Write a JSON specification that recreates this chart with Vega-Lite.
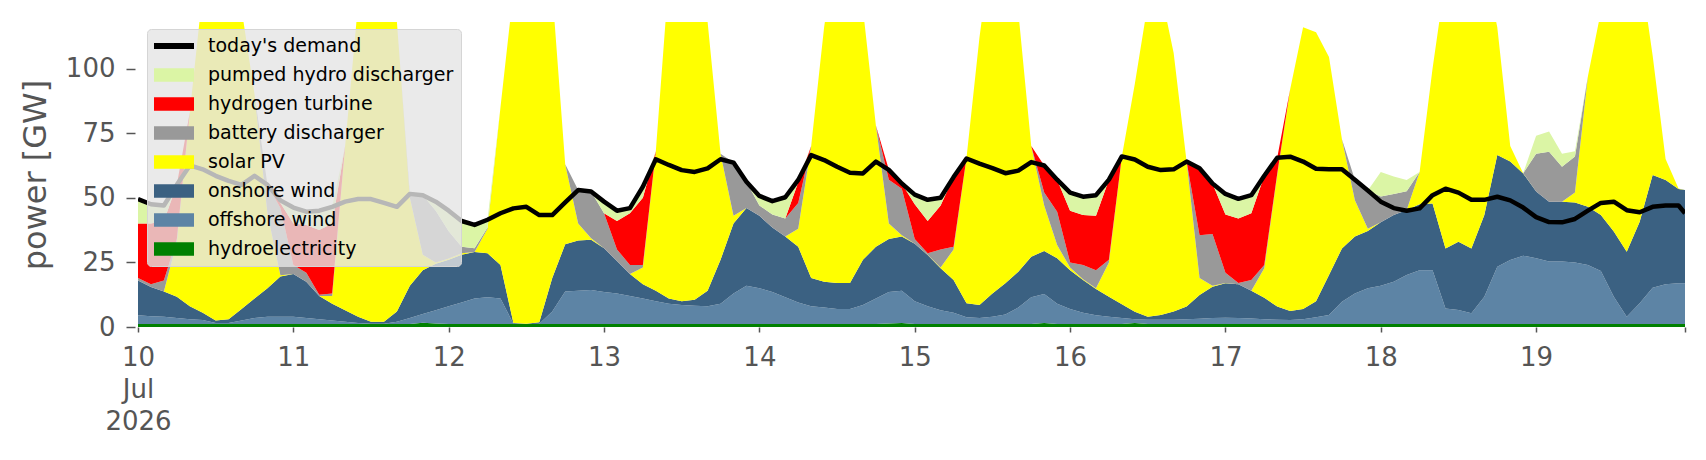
{
  "$schema": "https://vega.github.io/schema/vega-lite/v6.json",
  "width": 1547,
  "height": 305,
  "autosize": {"type": "none"},
  "padding": {"left": 138, "top": 22, "right": 21, "bottom": 133},
  "background": "white",
  "config": {
    "view": {"stroke": null},
    "font": "DejaVu Sans",
    "axis": {"labelFont": "DejaVu Sans", "titleFont": "DejaVu Sans"},
    "legend": {"labelFont": "DejaVu Sans"}
  },
  "data": {
    "values": [
      {"t": "2026-07-10T00:00Z", "hydro": 1.2, "offshore": 3.3, "onshore": 13.5, "solar": 0, "battery": 1, "hydrogen": 21, "pumped": 9, "demand": 49.5},
      {"t": "2026-07-10T02:00Z", "hydro": 1.2, "offshore": 3.0, "onshore": 11.3, "solar": 0, "battery": 1, "hydrogen": 23.5, "pumped": 7.5, "demand": 47.5},
      {"t": "2026-07-10T04:00Z", "hydro": 1.2, "offshore": 2.8, "onshore": 9.7, "solar": 0, "battery": 4.3, "hydrogen": 23, "pumped": 6, "demand": 47},
      {"t": "2026-07-10T06:00Z", "hydro": 1.2, "offshore": 2.3, "onshore": 8.2, "solar": 21.3, "battery": 1, "hydrogen": 21, "pumped": 0, "demand": 55},
      {"t": "2026-07-10T08:00Z", "hydro": 1.2, "offshore": 1.8, "onshore": 5, "solar": 75, "battery": 0, "hydrogen": 0, "pumped": 0, "demand": 62.5},
      {"t": "2026-07-10T10:00Z", "hydro": 1.2, "offshore": 1.5, "onshore": 2.8, "solar": 124.5, "battery": 0, "hydrogen": 0, "pumped": 0, "demand": 61},
      {"t": "2026-07-10T12:00Z", "hydro": 1.2, "offshore": 0.3, "onshore": 1, "solar": 147.5, "battery": 0, "hydrogen": 0, "pumped": 0, "demand": 58.5},
      {"t": "2026-07-10T14:00Z", "hydro": 1.2, "offshore": 0.3, "onshore": 1.5, "solar": 147, "battery": 0, "hydrogen": 0, "pumped": 0, "demand": 56.5},
      {"t": "2026-07-10T16:00Z", "hydro": 1.2, "offshore": 1.3, "onshore": 4.5, "solar": 116, "battery": 0, "hydrogen": 0, "pumped": 0, "demand": 55},
      {"t": "2026-07-10T18:00Z", "hydro": 1.2, "offshore": 2.3, "onshore": 7.5, "solar": 79, "battery": 0, "hydrogen": 0, "pumped": 0, "demand": 58.5},
      {"t": "2026-07-10T20:00Z", "hydro": 1.2, "offshore": 2.8, "onshore": 11, "solar": 29, "battery": 11, "hydrogen": 0, "pumped": 0, "demand": 55},
      {"t": "2026-07-10T22:00Z", "hydro": 1.2, "offshore": 2.8, "onshore": 15.5, "solar": 0.5, "battery": 26, "hydrogen": 2, "pumped": 1, "demand": 49},
      {"t": "2026-07-11T00:00Z", "hydro": 1.2, "offshore": 2.8, "onshore": 16.5, "solar": 0, "battery": 3.5, "hydrogen": 16, "pumped": 6.2, "demand": 46.2},
      {"t": "2026-07-11T02:00Z", "hydro": 1.2, "offshore": 2.3, "onshore": 14, "solar": 0, "battery": 3.5, "hydrogen": 18.5, "pumped": 5.1, "demand": 44.6},
      {"t": "2026-07-11T04:00Z", "hydro": 1.2, "offshore": 1.8, "onshore": 9, "solar": 0, "battery": 0.5, "hydrogen": 25, "pumped": 7.5, "demand": 45},
      {"t": "2026-07-11T06:00Z", "hydro": 1.2, "offshore": 1.3, "onshore": 6.5, "solar": 3, "battery": 1, "hydrogen": 27, "pumped": 6.5, "demand": 46.5},
      {"t": "2026-07-11T08:00Z", "hydro": 1.2, "offshore": 0.8, "onshore": 4.5, "solar": 63.5, "battery": 0, "hydrogen": 0, "pumped": 0, "demand": 48.5},
      {"t": "2026-07-11T10:00Z", "hydro": 1.2, "offshore": 0.3, "onshore": 2.5, "solar": 121, "battery": 0, "hydrogen": 0, "pumped": 0, "demand": 49.5},
      {"t": "2026-07-11T12:00Z", "hydro": 1.2, "offshore": 0.1, "onshore": 0.7, "solar": 148, "battery": 0, "hydrogen": 0, "pumped": 0, "demand": 49.5},
      {"t": "2026-07-11T14:00Z", "hydro": 1.2, "offshore": 0.1, "onshore": 0.7, "solar": 148, "battery": 0, "hydrogen": 0, "pumped": 0, "demand": 48},
      {"t": "2026-07-11T16:00Z", "hydro": 1.2, "offshore": 0.8, "onshore": 4, "solar": 112, "battery": 0, "hydrogen": 0, "pumped": 0, "demand": 46.5},
      {"t": "2026-07-11T18:00Z", "hydro": 1.2, "offshore": 2.3, "onshore": 12.5, "solar": 34, "battery": 1.5, "hydrogen": 0, "pumped": 0, "demand": 51.5},
      {"t": "2026-07-11T20:00Z", "hydro": 1.6, "offshore": 3.4, "onshore": 17, "solar": 6, "battery": 23, "hydrogen": 0, "pumped": 0, "demand": 51},
      {"t": "2026-07-11T22:00Z", "hydro": 1.4, "offshore": 5.1, "onshore": 18, "solar": 0.5, "battery": 20, "hydrogen": 0, "pumped": 3.5, "demand": 48.5},
      {"t": "2026-07-12T00:00Z", "hydro": 1.2, "offshore": 6.8, "onshore": 18, "solar": 0.5, "battery": 10.5, "hydrogen": 0, "pumped": 8, "demand": 45},
      {"t": "2026-07-12T02:00Z", "hydro": 1.2, "offshore": 8.3, "onshore": 18.5, "solar": 0.5, "battery": 2.5, "hydrogen": 0, "pumped": 10, "demand": 41},
      {"t": "2026-07-12T04:00Z", "hydro": 1.2, "offshore": 9.8, "onshore": 18, "solar": 0, "battery": 1.5, "hydrogen": 0, "pumped": 9, "demand": 39.5},
      {"t": "2026-07-12T06:00Z", "hydro": 1.2, "offshore": 10.3, "onshore": 17, "solar": 9.5, "battery": 0.5, "hydrogen": 0, "pumped": 3, "demand": 41.5},
      {"t": "2026-07-12T08:00Z", "hydro": 1.2, "offshore": 9.8, "onshore": 13, "solar": 61, "battery": 0, "hydrogen": 0, "pumped": 0, "demand": 44},
      {"t": "2026-07-12T10:00Z", "hydro": 1.2, "offshore": 0.1, "onshore": 0.2, "solar": 128.5, "battery": 0, "hydrogen": 0, "pumped": 0, "demand": 45.9},
      {"t": "2026-07-12T12:00Z", "hydro": 1.2, "offshore": 0, "onshore": 0.1, "solar": 148.7, "battery": 0, "hydrogen": 0, "pumped": 0, "demand": 46.5},
      {"t": "2026-07-12T14:00Z", "hydro": 1.2, "offshore": 0.1, "onshore": 0.5, "solar": 148.2, "battery": 0, "hydrogen": 0, "pumped": 0, "demand": 43.3},
      {"t": "2026-07-12T16:00Z", "hydro": 1.2, "offshore": 4.8, "onshore": 13, "solar": 111, "battery": 0, "hydrogen": 0, "pumped": 0, "demand": 43.3},
      {"t": "2026-07-12T18:00Z", "hydro": 1.2, "offshore": 12.5, "onshore": 18.3, "solar": 31, "battery": 0, "hydrogen": 0, "pumped": 0, "demand": 48.2},
      {"t": "2026-07-12T20:00Z", "hydro": 1.2, "offshore": 12.8, "onshore": 19.5, "solar": 6.5, "battery": 13, "hydrogen": 0, "pumped": 0, "demand": 53},
      {"t": "2026-07-12T22:00Z", "hydro": 1.2, "offshore": 13.1, "onshore": 19.5, "solar": 0.5, "battery": 18.1, "hydrogen": 0, "pumped": 0, "demand": 52.4},
      {"t": "2026-07-13T00:00Z", "hydro": 1.2, "offshore": 12.3, "onshore": 17, "solar": 0, "battery": 13.5, "hydrogen": 0, "pumped": 4.5, "demand": 48.5},
      {"t": "2026-07-13T02:00Z", "hydro": 1.2, "offshore": 11.8, "onshore": 12.5, "solar": 0, "battery": 4.5, "hydrogen": 11, "pumped": 4, "demand": 45},
      {"t": "2026-07-13T04:00Z", "hydro": 1.2, "offshore": 10.8, "onshore": 8.5, "solar": 0, "battery": 3.5, "hydrogen": 20, "pumped": 2, "demand": 46},
      {"t": "2026-07-13T06:00Z", "hydro": 1.2, "offshore": 9.8, "onshore": 5.5, "solar": 6.5, "battery": 1, "hydrogen": 26, "pumped": 4.3, "demand": 54.3},
      {"t": "2026-07-13T08:00Z", "hydro": 1.2, "offshore": 8.8, "onshore": 4, "solar": 54, "battery": 0, "hydrogen": 0, "pumped": 0, "demand": 64.9},
      {"t": "2026-07-13T10:00Z", "hydro": 1.2, "offshore": 7.8, "onshore": 2, "solar": 124, "battery": 0, "hydrogen": 0, "pumped": 0, "demand": 62.7},
      {"t": "2026-07-13T12:00Z", "hydro": 1.2, "offshore": 7.3, "onshore": 1.5, "solar": 150, "battery": 0, "hydrogen": 0, "pumped": 0, "demand": 60.7},
      {"t": "2026-07-13T14:00Z", "hydro": 1.2, "offshore": 7, "onshore": 2.3, "solar": 149.5, "battery": 0, "hydrogen": 0, "pumped": 0, "demand": 60},
      {"t": "2026-07-13T16:00Z", "hydro": 1.2, "offshore": 6.8, "onshore": 6, "solar": 104, "battery": 0, "hydrogen": 0, "pumped": 0, "demand": 61.4},
      {"t": "2026-07-13T18:00Z", "hydro": 1.2, "offshore": 7.8, "onshore": 17, "solar": 41, "battery": 0, "hydrogen": 0, "pumped": 0, "demand": 64.9},
      {"t": "2026-07-13T20:00Z", "hydro": 1.2, "offshore": 11.8, "onshore": 27, "solar": 3, "battery": 20.6, "hydrogen": 0, "pumped": 0, "demand": 63.6},
      {"t": "2026-07-13T22:00Z", "hydro": 1.2, "offshore": 14.8, "onshore": 30, "solar": 0, "battery": 10.2, "hydrogen": 0, "pumped": 0, "demand": 56.2},
      {"t": "2026-07-14T00:00Z", "hydro": 1.2, "offshore": 13.8, "onshore": 28, "solar": 0, "battery": 4, "hydrogen": 0, "pumped": 3.7, "demand": 50.7},
      {"t": "2026-07-14T02:00Z", "hydro": 1.2, "offshore": 12.3, "onshore": 25, "solar": 0, "battery": 5, "hydrogen": 0, "pumped": 5.2, "demand": 48.7},
      {"t": "2026-07-14T04:00Z", "hydro": 1.2, "offshore": 10.3, "onshore": 23.5, "solar": 0, "battery": 7, "hydrogen": 0, "pumped": 8.2, "demand": 50.2},
      {"t": "2026-07-14T06:00Z", "hydro": 1.2, "offshore": 8.3, "onshore": 21.5, "solar": 7, "battery": 10, "hydrogen": 8, "pumped": 0.9, "demand": 56.9},
      {"t": "2026-07-14T08:00Z", "hydro": 1.2, "offshore": 6.8, "onshore": 11, "solar": 51, "battery": 0, "hydrogen": 0, "pumped": 0, "demand": 66.5},
      {"t": "2026-07-14T10:00Z", "hydro": 1.2, "offshore": 6.3, "onshore": 10, "solar": 98.5, "battery": 0, "hydrogen": 0, "pumped": 0, "demand": 64.6},
      {"t": "2026-07-14T12:00Z", "hydro": 1.2, "offshore": 5.8, "onshore": 10, "solar": 133, "battery": 0, "hydrogen": 0, "pumped": 0, "demand": 62},
      {"t": "2026-07-14T14:00Z", "hydro": 1.2, "offshore": 5.8, "onshore": 10, "solar": 133, "battery": 0, "hydrogen": 0, "pumped": 0, "demand": 59.7},
      {"t": "2026-07-14T16:00Z", "hydro": 1.2, "offshore": 7.3, "onshore": 17.5, "solar": 97, "battery": 0, "hydrogen": 0, "pumped": 0, "demand": 59.4},
      {"t": "2026-07-14T18:00Z", "hydro": 1.2, "offshore": 9.8, "onshore": 20, "solar": 47, "battery": 0, "hydrogen": 0, "pumped": 0, "demand": 64},
      {"t": "2026-07-14T20:00Z", "hydro": 1.4, "offshore": 12.1, "onshore": 20.5, "solar": 6, "battery": 17, "hydrogen": 3.8, "pumped": 0, "demand": 60.8},
      {"t": "2026-07-14T22:00Z", "hydro": 1.5, "offshore": 12.5, "onshore": 21, "solar": 0.5, "battery": 18, "hydrogen": 2, "pumped": 0, "demand": 55.5},
      {"t": "2026-07-15T00:00Z", "hydro": 1.2, "offshore": 8.8, "onshore": 22.2, "solar": 0, "battery": 1.8, "hydrogen": 13.5, "pumped": 3.7, "demand": 51.2},
      {"t": "2026-07-15T02:00Z", "hydro": 1.2, "offshore": 6.8, "onshore": 19.9, "solar": 0.1, "battery": 0.5, "hydrogen": 12.5, "pumped": 8.2, "demand": 49.2},
      {"t": "2026-07-15T04:00Z", "hydro": 1.2, "offshore": 5.3, "onshore": 16.2, "solar": 0.3, "battery": 7, "hydrogen": 17, "pumped": 3, "demand": 50},
      {"t": "2026-07-15T06:00Z", "hydro": 1.2, "offshore": 4.3, "onshore": 12.7, "solar": 11.8, "battery": 1, "hydrogen": 27, "pumped": 0, "demand": 58},
      {"t": "2026-07-15T08:00Z", "hydro": 1.2, "offshore": 2.6, "onshore": 5.4, "solar": 56.3, "battery": 0, "hydrogen": 0, "pumped": 0, "demand": 65.2},
      {"t": "2026-07-15T10:00Z", "hydro": 1.2, "offshore": 2.3, "onshore": 5, "solar": 103.5, "battery": 0, "hydrogen": 0, "pumped": 0, "demand": 63.2},
      {"t": "2026-07-15T12:00Z", "hydro": 1.2, "offshore": 2.8, "onshore": 9, "solar": 137, "battery": 0, "hydrogen": 0, "pumped": 0, "demand": 61.5},
      {"t": "2026-07-15T14:00Z", "hydro": 1.2, "offshore": 3.6, "onshore": 12.1, "solar": 143.1, "battery": 0, "hydrogen": 0, "pumped": 0, "demand": 59.5},
      {"t": "2026-07-15T16:00Z", "hydro": 1.2, "offshore": 6.3, "onshore": 13.9, "solar": 100.6, "battery": 0, "hydrogen": 0, "pumped": 0, "demand": 60.5},
      {"t": "2026-07-15T18:00Z", "hydro": 1.2, "offshore": 10.3, "onshore": 15.7, "solar": 42.8, "battery": 0, "hydrogen": 0, "pumped": 0, "demand": 63.8},
      {"t": "2026-07-15T20:00Z", "hydro": 1.5, "offshore": 11.3, "onshore": 16.6, "solar": 17.6, "battery": 5, "hydrogen": 10.5, "pumped": 0, "demand": 62.5},
      {"t": "2026-07-15T22:00Z", "hydro": 1.2, "offshore": 7.8, "onshore": 17.6, "solar": 5.1, "battery": 12.9, "hydrogen": 12.4, "pumped": 0, "demand": 57},
      {"t": "2026-07-16T00:00Z", "hydro": 1.2, "offshore": 5.8, "onshore": 15, "solar": 1, "battery": 2, "hydrogen": 20, "pumped": 7, "demand": 52},
      {"t": "2026-07-16T02:00Z", "hydro": 1.2, "offshore": 4.3, "onshore": 12.7, "solar": 0.3, "battery": 5.5, "hydrogen": 19.3, "pumped": 7.1, "demand": 50.4},
      {"t": "2026-07-16T04:00Z", "hydro": 1.2, "offshore": 3.3, "onshore": 10.2, "solar": 0.3, "battery": 7, "hydrogen": 21, "pumped": 8, "demand": 51},
      {"t": "2026-07-16T06:00Z", "hydro": 1.2, "offshore": 2.8, "onshore": 7.7, "solar": 13.3, "battery": 1, "hydrogen": 31, "pumped": 0, "demand": 57},
      {"t": "2026-07-16T08:00Z", "hydro": 1.2, "offshore": 2.3, "onshore": 5.3, "solar": 57.2, "battery": 0, "hydrogen": 0, "pumped": 0, "demand": 66},
      {"t": "2026-07-16T10:00Z", "hydro": 1.5, "offshore": 1.5, "onshore": 2.9, "solar": 88.1, "battery": 0, "hydrogen": 0, "pumped": 0, "demand": 64.8},
      {"t": "2026-07-16T12:00Z", "hydro": 1.2, "offshore": 1.6, "onshore": 1.2, "solar": 121, "battery": 0, "hydrogen": 0, "pumped": 0, "demand": 62},
      {"t": "2026-07-16T14:00Z", "hydro": 1.2, "offshore": 1.6, "onshore": 1.8, "solar": 125.4, "battery": 0, "hydrogen": 0, "pumped": 0, "demand": 60.7},
      {"t": "2026-07-16T16:00Z", "hydro": 1.2, "offshore": 1.6, "onshore": 3.2, "solar": 100, "battery": 0, "hydrogen": 0, "pumped": 0, "demand": 61},
      {"t": "2026-07-16T18:00Z", "hydro": 1.2, "offshore": 1.8, "onshore": 4.9, "solar": 56.1, "battery": 0, "hydrogen": 0, "pumped": 0, "demand": 64},
      {"t": "2026-07-16T20:00Z", "hydro": 1.2, "offshore": 2, "onshore": 9.2, "solar": 6.6, "battery": 16.5, "hydrogen": 25.9, "pumped": 0, "demand": 61.4},
      {"t": "2026-07-16T22:00Z", "hydro": 1.2, "offshore": 2.3, "onshore": 12.1, "solar": 0.4, "battery": 20, "hydrogen": 19.5, "pumped": 0, "demand": 55.5},
      {"t": "2026-07-17T00:00Z", "hydro": 1.2, "offshore": 2.4, "onshore": 13.3, "solar": 0.1, "battery": 4, "hydrogen": 22.5, "pumped": 8, "demand": 51.5},
      {"t": "2026-07-17T02:00Z", "hydro": 1.2, "offshore": 2.3, "onshore": 13, "solar": 0, "battery": 0.5, "hydrogen": 25, "pumped": 7.6, "demand": 49.6},
      {"t": "2026-07-17T04:00Z", "hydro": 1.2, "offshore": 2.1, "onshore": 10.7, "solar": 0, "battery": 4.2, "hydrogen": 25.8, "pumped": 7, "demand": 51},
      {"t": "2026-07-17T06:00Z", "hydro": 1.2, "offshore": 1.8, "onshore": 8.3, "solar": 11.4, "battery": 1.3, "hydrogen": 34.5, "pumped": 0, "demand": 58.5},
      {"t": "2026-07-17T08:00Z", "hydro": 1.2, "offshore": 1.6, "onshore": 5.1, "solar": 50.9, "battery": 0.5, "hydrogen": 6.2, "pumped": 0, "demand": 65.5},
      {"t": "2026-07-17T10:00Z", "hydro": 1.2, "offshore": 1.5, "onshore": 3.5, "solar": 85.8, "battery": 0, "hydrogen": 0, "pumped": 0, "demand": 65.9},
      {"t": "2026-07-17T12:00Z", "hydro": 1.2, "offshore": 1.8, "onshore": 4, "solar": 109, "battery": 0, "hydrogen": 0, "pumped": 0, "demand": 64},
      {"t": "2026-07-17T14:00Z", "hydro": 1.2, "offshore": 2.6, "onshore": 6.2, "solar": 104, "battery": 0, "hydrogen": 0, "pumped": 0, "demand": 61.2},
      {"t": "2026-07-17T16:00Z", "hydro": 1.2, "offshore": 3.4, "onshore": 15.5, "solar": 84.4, "battery": 0, "hydrogen": 0, "pumped": 0, "demand": 61},
      {"t": "2026-07-17T18:00Z", "hydro": 1.2, "offshore": 8.6, "onshore": 20.6, "solar": 42.2, "battery": 0, "hydrogen": 0, "pumped": 0, "demand": 61},
      {"t": "2026-07-17T20:00Z", "hydro": 1.2, "offshore": 11.8, "onshore": 22, "solar": 14, "battery": 8, "hydrogen": 0, "pumped": 0, "demand": 57},
      {"t": "2026-07-17T22:00Z", "hydro": 1.2, "offshore": 13.8, "onshore": 22.1, "solar": 0.9, "battery": 14.8, "hydrogen": 0, "pumped": 0, "demand": 52.8},
      {"t": "2026-07-18T00:00Z", "hydro": 1.2, "offshore": 14.8, "onshore": 24.5, "solar": 0, "battery": 10, "hydrogen": 0, "pumped": 9.5, "demand": 48.5},
      {"t": "2026-07-18T02:00Z", "hydro": 1.2, "offshore": 16.3, "onshore": 25.8, "solar": 0, "battery": 8.2, "hydrogen": 0, "pumped": 6.7, "demand": 46},
      {"t": "2026-07-18T04:00Z", "hydro": 1.2, "offshore": 18.9, "onshore": 25.2, "solar": 0, "battery": 7.2, "hydrogen": 0, "pumped": 4.4, "demand": 45},
      {"t": "2026-07-18T06:00Z", "hydro": 1.2, "offshore": 20.8, "onshore": 25.5, "solar": 12.5, "battery": 0, "hydrogen": 0, "pumped": 0, "demand": 45.9},
      {"t": "2026-07-18T08:00Z", "hydro": 1.2, "offshore": 20.8, "onshore": 25.8, "solar": 52.2, "battery": 0, "hydrogen": 0, "pumped": 0, "demand": 51},
      {"t": "2026-07-18T10:00Z", "hydro": 1.2, "offshore": 6, "onshore": 23.2, "solar": 104.6, "battery": 0, "hydrogen": 0, "pumped": 0, "demand": 53.5},
      {"t": "2026-07-18T12:00Z", "hydro": 1.2, "offshore": 5.4, "onshore": 26.4, "solar": 117, "battery": 0, "hydrogen": 0, "pumped": 0, "demand": 52},
      {"t": "2026-07-18T14:00Z", "hydro": 1.2, "offshore": 4.1, "onshore": 25.1, "solar": 119.6, "battery": 0, "hydrogen": 0, "pumped": 0, "demand": 49.2},
      {"t": "2026-07-18T16:00Z", "hydro": 1.2, "offshore": 10.5, "onshore": 31.6, "solar": 96.7, "battery": 0, "hydrogen": 0, "pumped": 0, "demand": 49.2},
      {"t": "2026-07-18T18:00Z", "hydro": 1.2, "offshore": 22.1, "onshore": 43.2, "solar": 49.5, "battery": 0, "hydrogen": 0, "pumped": 0, "demand": 50.4},
      {"t": "2026-07-18T20:00Z", "hydro": 1.2, "offshore": 24.7, "onshore": 38.1, "solar": 6, "battery": 0, "hydrogen": 0, "pumped": 0, "demand": 49},
      {"t": "2026-07-18T22:00Z", "hydro": 1.2, "offshore": 26.4, "onshore": 31.8, "solar": 0.1, "battery": 0, "hydrogen": 0, "pumped": 0, "demand": 46.2},
      {"t": "2026-07-19T00:00Z", "hydro": 1.2, "offshore": 25.4, "onshore": 25.8, "solar": 0, "battery": 14.6, "hydrogen": 0, "pumped": 7, "demand": 42.5},
      {"t": "2026-07-19T02:00Z", "hydro": 1.2, "offshore": 24.1, "onshore": 23.2, "solar": 0, "battery": 19.3, "hydrogen": 0, "pumped": 7.8, "demand": 40.6},
      {"t": "2026-07-19T04:00Z", "hydro": 1.2, "offshore": 24.1, "onshore": 23.2, "solar": 0, "battery": 13.5, "hydrogen": 0, "pumped": 5, "demand": 40.5},
      {"t": "2026-07-19T06:00Z", "hydro": 1.2, "offshore": 23.8, "onshore": 23.2, "solar": 3.8, "battery": 14, "hydrogen": 0, "pumped": 2, "demand": 41.8},
      {"t": "2026-07-19T08:00Z", "hydro": 1.2, "offshore": 22.8, "onshore": 22.5, "solar": 50.5, "battery": 0, "hydrogen": 0, "pumped": 0, "demand": 45},
      {"t": "2026-07-19T10:00Z", "hydro": 1.2, "offshore": 20.5, "onshore": 21.6, "solar": 78.7, "battery": 0, "hydrogen": 0, "pumped": 0, "demand": 48},
      {"t": "2026-07-19T12:00Z", "hydro": 1.2, "offshore": 10.5, "onshore": 25.2, "solar": 113.1, "battery": 0, "hydrogen": 0, "pumped": 0, "demand": 48.5},
      {"t": "2026-07-19T14:00Z", "hydro": 1.2, "offshore": 2.8, "onshore": 25.1, "solar": 120.9, "battery": 0, "hydrogen": 0, "pumped": 0, "demand": 45.2},
      {"t": "2026-07-19T16:00Z", "hydro": 1.2, "offshore": 8, "onshore": 31.5, "solar": 99.3, "battery": 0, "hydrogen": 0, "pumped": 0, "demand": 44.4},
      {"t": "2026-07-19T18:00Z", "hydro": 1.2, "offshore": 14, "onshore": 43.6, "solar": 46.2, "battery": 0, "hydrogen": 0, "pumped": 0, "demand": 46.5},
      {"t": "2026-07-19T20:00Z", "hydro": 1.2, "offshore": 15.3, "onshore": 40.4, "solar": 8.1, "battery": 0, "hydrogen": 0, "pumped": 0, "demand": 47},
      {"t": "2026-07-19T22:00Z", "hydro": 1.2, "offshore": 15.7, "onshore": 36.5, "solar": 0.2, "battery": 0, "hydrogen": 0, "pumped": 0, "demand": 47},
      {"t": "2026-07-19T23:00Z", "hydro": 1.2, "offshore": 15.7, "onshore": 36.1, "solar": 0, "battery": 0, "hydrogen": 0, "pumped": 0, "demand": 44}
    ]
  },
  "layer": [
    {
      "transform": [
        {"fold": ["hydro", "offshore", "onshore", "solar", "battery", "hydrogen", "pumped"], "as": ["src", "GW"]},
        {"calculate": "indexof(['hydro', 'offshore', 'onshore', 'solar', 'battery', 'hydrogen', 'pumped'], datum.src)", "as": "k"}
      ],
      "mark": {"type": "area", "clip": true, "interpolate": "linear"},
      "encoding": {
        "x": {
          "field": "t",
          "type": "temporal",
          "scale": {
            "type": "utc",
            "domain": [
              {"year": 2026, "month": 7, "date": 10, "hours": 0, "utc": true},
              {"year": 2026, "month": 7, "date": 19, "hours": 23, "utc": true}
            ]
          },
          "axis": {
            "title": null,
            "domain": false,
            "grid": false,
            "values": [
              {"year": 2026, "month": 7, "date": 10, "utc": true},
              {"year": 2026, "month": 7, "date": 11, "utc": true},
              {"year": 2026, "month": 7, "date": 12, "utc": true},
              {"year": 2026, "month": 7, "date": 13, "utc": true},
              {"year": 2026, "month": 7, "date": 14, "utc": true},
              {"year": 2026, "month": 7, "date": 15, "utc": true},
              {"year": 2026, "month": 7, "date": 16, "utc": true},
              {"year": 2026, "month": 7, "date": 17, "utc": true},
              {"year": 2026, "month": 7, "date": 18, "utc": true},
              {"year": 2026, "month": 7, "date": 19, "utc": true},
              {"year": 2026, "month": 7, "date": 19, "hours": 23, "utc": true}
            ],
            "labelExpr": "utcdate(datum.value) == 10 ? ['10', 'Jul', '2026'] : (utchours(datum.value) == 23 ? '' : utcFormat(datum.value, '%d'))",
            "labelFontSize": 26,
            "labelColor": "#555555",
            "labelLineHeight": 32,
            "labelAlign": "center",
            "labelBaseline": "top",
            "labelFlush": false,
            "labelOverlap": false,
            "labelPadding": 12,
            "tickSize": 5,
            "tickWidth": 1.5,
            "tickColor": "#555555"
          }
        },
        "y": {
          "field": "GW",
          "type": "quantitative",
          "stack": "zero",
          "scale": {"domain": [0, 118], "nice": false, "zero": true},
          "axis": {
            "title": "power [GW]",
            "titleFontSize": 32,
            "titleFontWeight": "normal",
            "titleColor": "#555555",
            "titlePadding": 13,
            "values": [0, 25, 50, 75, 100],
            "labelFontSize": 26,
            "labelColor": "#555555",
            "labelPadding": 11,
            "tickSize": 9,
            "tickWidth": 1.5,
            "tickColor": "#555555",
            "offset": 3,
            "domain": false,
            "grid": false
          }
        },
        "color": {
          "field": "src",
          "type": "nominal",
          "scale": {
            "domain": ["demand", "pumped", "hydrogen", "battery", "solar", "onshore", "offshore", "hydro"],
            "range": ["#000000", "#dbf5a5", "#ff0000", "#999999", "#ffff00", "#3b6182", "#5d84a5", "#008000"]
          },
          "legend": {
            "title": null,
            "orient": "none",
            "legendX": 9,
            "legendY": 7,
            "zindex": 1,
            "fillColor": "rgba(229,229,229,0.8)",
            "strokeColor": "#d5d5d5",
            "cornerRadius": 4,
            "padding": 7,
            "rowPadding": 9,
            "symbolSize": 400,
            "symbolType": "M-1,-0.67H3V0.67H-1Z",
            "symbolStrokeWidth": 0,
            "labelFontSize": 19,
            "labelColor": "#000000",
            "labelOffset": 34,
            "labelLimit": 400,
            "labelExpr": "datum.label == 'demand' ? \"today's demand\" : datum.label == 'pumped' ? 'pumped hydro discharger' : datum.label == 'hydrogen' ? 'hydrogen turbine' : datum.label == 'battery' ? 'battery discharger' : datum.label == 'solar' ? 'solar PV' : datum.label == 'onshore' ? 'onshore wind' : datum.label == 'offshore' ? 'offshore wind' : 'hydroelectricity'",
            "encode": {
              "symbols": {
                "update": {
                  "shape": {"signal": "datum.value === 'demand' ? 'M-1,-0.3H3V0.3H-1Z' : 'M-1,-0.67H3V0.67H-1Z'"},
                  "fill": {"scale": "color", "field": "value"},
                  "stroke": {"value": "transparent"},
                  "strokeWidth": {"value": 0},
                  "opacity": {"value": 1}
                }
              }
            }
          }
        },
        "order": {"field": "k", "type": "quantitative", "sort": "ascending"}
      }
    },
    {
      "transform": [{"fold": ["demand"], "as": ["src", "GW"]}],
      "mark": {"type": "line", "clip": true, "strokeWidth": 4.5, "strokeJoin": "round"},
      "encoding": {
        "x": {"field": "t", "type": "temporal"},
        "y": {"field": "GW", "type": "quantitative"},
        "color": {"field": "src", "type": "nominal"}
      }
    }
  ]
}
